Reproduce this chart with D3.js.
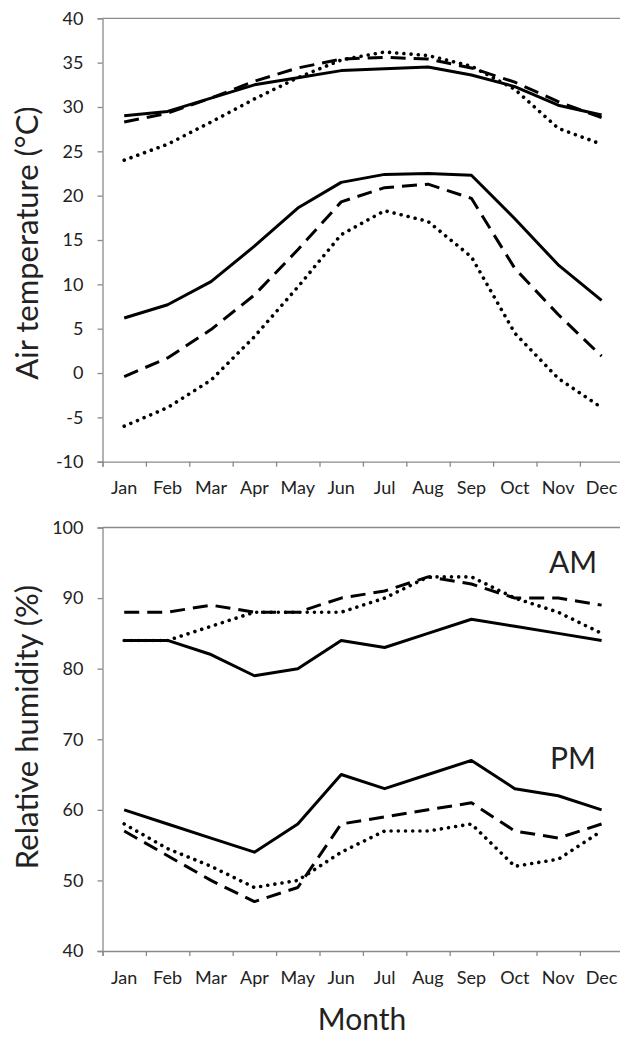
<!DOCTYPE html>
<html>
<head>
<meta charset="utf-8">
<script src="https://cdn.jsdelivr.net/npm/d3@7"></script>
<style>
  html, body { margin: 0; padding: 0; background: #fff; }
  svg text { font-family: Lato, "Open Sans", sans-serif; fill: #222; }
</style>
</head>
<body>
<svg id="chart" width="620" height="1042"></svg>
<script>
const months = ["Jan","Feb","Mar","Apr","May","Jun","Jul","Aug","Sep","Oct","Nov","Dec"];

// Air temperature (°C)
const tMaxSolid  = [29, 29.5, 31, 32.5, 33.3, 34.1, 34.3, 34.5, 33.6, 32.3, 30.2, 29.1];
const tMaxDashed = [28.3, 29.3, 31, 32.9, 34.4, 35.4, 35.6, 35.4, 34.4, 32.8, 30.6, 28.8];
const tMaxDotted = [24, 25.8, 28.3, 30.9, 33.3, 35.3, 36.2, 35.8, 34.6, 32, 27.6, 25.8];
const tMinSolid  = [6.2, 7.7, 10.3, 14.3, 18.6, 21.5, 22.4, 22.5, 22.3, 17.4, 12.2, 8.2];
const tMinDashed = [-0.4, 1.7, 4.9, 8.8, 13.9, 19.3, 20.9, 21.3, 19.7, 11.8, 6.6, 1.9];
const tMinDotted = [-6, -3.9, -0.8, 4.1, 9.7, 15.6, 18.3, 17.1, 13.1, 4.5, -0.6, -3.9];
const tempTicks  = [-10, -5, 0, 5, 10, 15, 20, 25, 30, 35, 40];

// Relative humidity (%)
const amSolid  = [84, 84, 82, 79, 80, 84, 83, 85, 87, 86, 85, 84];
const amDashed = [88, 88, 89, 88, 88, 90, 91, 93, 92, 90, 90, 89];
const amDotted = [84, 84, 86, 88, 88, 88, 90, 93, 93, 90, 88, 85];
const pmSolid  = [60, 58, 56, 54, 58, 65, 63, 65, 67, 63, 62, 60];
const pmDashed = [57, 53.5, 50, 47, 49, 58, 59, 60, 61, 57, 56, 58];
const pmDotted = [58, 54.5, 52, 49, 50, 54, 57, 57, 58, 52, 53, 57];
const rhTicks  = [40, 50, 60, 70, 80, 90, 100];

const styles = {
  solid:  { dash: null, width: 3, cap: "butt" },
  dashed: { dash: "15 8", width: 3, cap: "butt" },
  dotted: { dash: "0.01 7.2", width: 3.6, cap: "round" }
};

const svg = d3.select("#chart");
const axisColor = "#8a8a8a";
const xLeft = 102.5, xRight = 102.5 + 12 * 43.4;

const xBand = d3.scaleBand().domain(months).range([xLeft, xRight]);
const xPos = m => xBand(m) + xBand.bandwidth() / 2;
const xEdges = d3.scaleLinear().domain([0, 12]).range([xLeft, xRight]);

function panel(cfg) {
  const y = d3.scaleLinear().domain(cfg.domain).range([cfg.bottom, cfg.top]);
  const g = svg.append("g");

  // top border
  g.append("line")
    .attr("x1", xLeft).attr("x2", 620)
    .attr("y1", y(cfg.domain[1])).attr("y2", y(cfg.domain[1]))
    .attr("stroke", axisColor).attr("stroke-width", 1.3);

  // y axis
  const ya = g.append("g").attr("transform", `translate(${xLeft},0)`)
    .call(d3.axisLeft(y).tickValues(cfg.ticks).tickSize(5).tickPadding(14).tickFormat(d => String(d)));
  ya.select(".domain").attr("stroke", axisColor).attr("stroke-width", 1.3);
  ya.selectAll(".tick line").attr("stroke", axisColor).attr("stroke-width", 1.3);
  ya.selectAll(".tick text").style("font-size", "18px").attr("fill", "#222");

  // x axis tick marks at category edges
  const xa = g.append("g").attr("transform", `translate(0,${cfg.bottom})`)
    .call(d3.axisBottom(xEdges).tickValues(d3.range(0, 13)).tickSize(5).tickFormat(""));
  xa.select(".domain").attr("stroke", axisColor).attr("stroke-width", 1.3);
  xa.selectAll(".tick line").attr("stroke", axisColor).attr("stroke-width", 1.3);

  // x labels at category centres
  const xl = g.append("g").attr("transform", `translate(0,${cfg.bottom})`)
    .call(d3.axisBottom(xBand).tickSize(0).tickPadding(20));
  xl.select(".domain").remove();
  xl.selectAll(".tick text").style("font-size", "18px").attr("fill", "#222");

  const line = d3.line().x((d, i) => xPos(months[i])).y(d => y(d));
  cfg.series.forEach(s => {
    const st = styles[s.style];
    g.append("path").datum(s.values)
      .attr("d", line)
      .attr("fill", "none")
      .attr("stroke", "#000")
      .attr("stroke-width", st.width)
      .attr("stroke-linecap", st.cap)
      .attr("stroke-linejoin", "round")
      .attr("stroke-dasharray", st.dash);
  });

  // y title
  g.append("text")
    .attr("transform", `translate(${cfg.titleX},${cfg.titleY}) rotate(-90)`)
    .attr("text-anchor", "middle")
    .style("font-size", cfg.titleSize + "px")
    .text(cfg.title);
  return y;
}

panel({
  domain: [-10, 40], top: 18.3, bottom: 461.7, ticks: tempTicks,
  title: "Air temperature (°C)", titleX: 38, titleY: 243, titleSize: 31,
  series: [
    { values: tMaxDotted, style: "dotted" },
    { values: tMaxDashed, style: "dashed" },
    { values: tMaxSolid, style: "solid" },
    { values: tMinDotted, style: "dotted" },
    { values: tMinDashed, style: "dashed" },
    { values: tMinSolid, style: "solid" }
  ]
});

panel({
  domain: [40, 100], top: 527.5, bottom: 951, ticks: rhTicks,
  title: "Relative humidity (%)", titleX: 38, titleY: 727, titleSize: 31,
  series: [
    { values: amDotted, style: "dotted" },
    { values: amDashed, style: "dashed" },
    { values: amSolid, style: "solid" },
    { values: pmDotted, style: "dotted" },
    { values: pmDashed, style: "dashed" },
    { values: pmSolid, style: "solid" }
  ]
});

svg.append("text").attr("x", 573).attr("y", 573).attr("text-anchor", "middle")
  .style("font-size", "30px").text("AM");
svg.append("text").attr("x", 573).attr("y", 769).attr("text-anchor", "middle")
  .style("font-size", "30px").text("PM");
svg.append("text").attr("x", 362).attr("y", 1030).attr("text-anchor", "middle")
  .style("font-size", "30px").text("Month");
</script>
</body>
</html>
